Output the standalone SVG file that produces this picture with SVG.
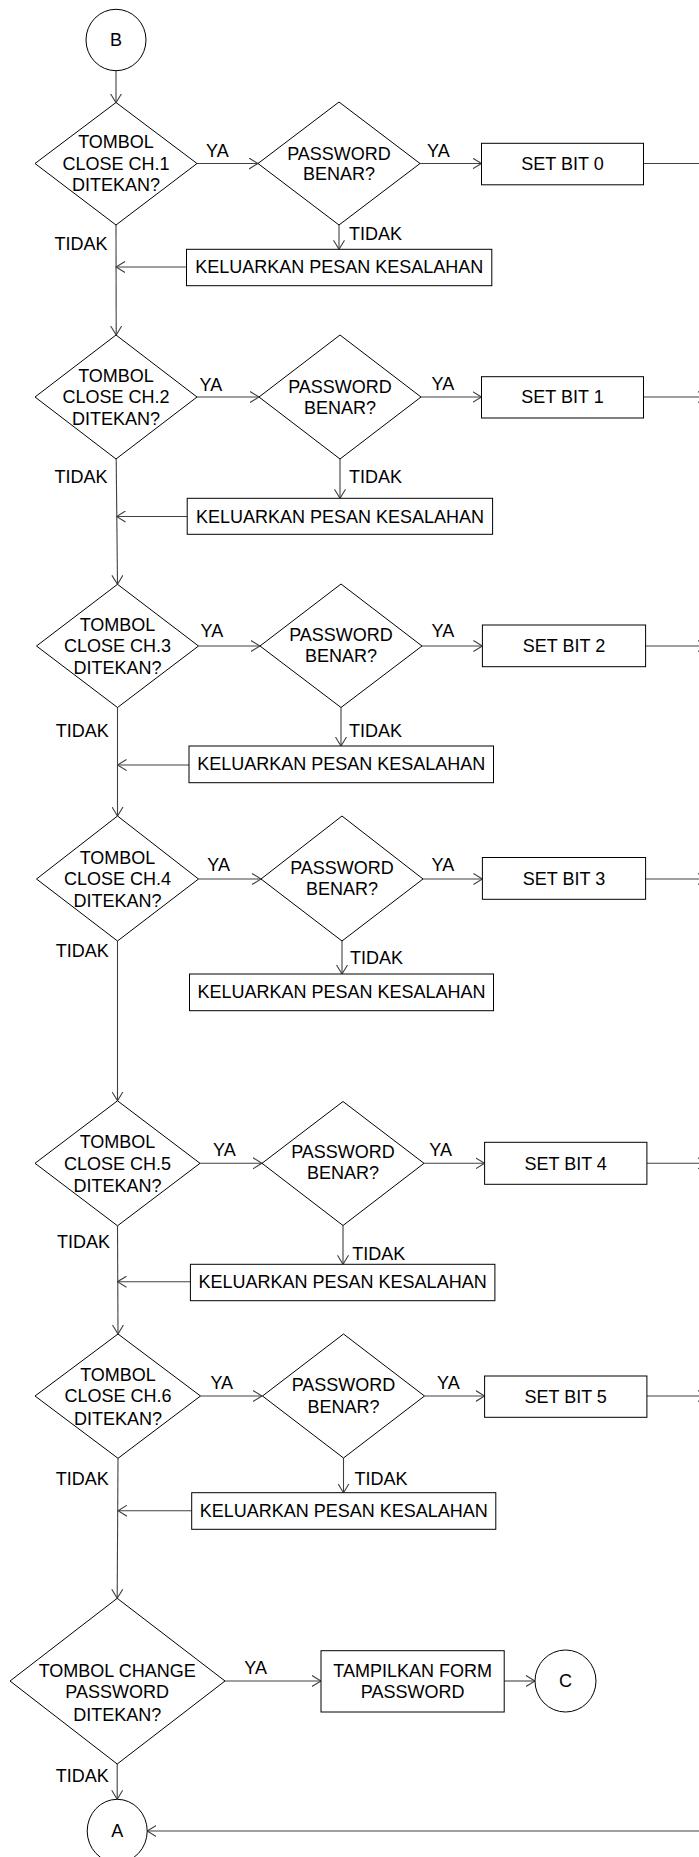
<svg xmlns="http://www.w3.org/2000/svg" width="699" height="1857" viewBox="0 0 699 1857">
<style>
.s{fill:#fff;stroke:#000;stroke-width:1}
.t{font-family:"Liberation Sans",Arial,sans-serif;font-size:18px;fill:#000}
.m{text-anchor:middle}
.c{fill:none;stroke:#404040;stroke-width:1.1}
.a{marker-end:url(#ah)}
</style>
<defs>
<marker id="ah" viewBox="0 0 10 12" refX="9" refY="6" markerWidth="10" markerHeight="12" markerUnits="userSpaceOnUse" orient="auto">
<path d="M0,0.5 L9,6 L0,11.5" fill="none" stroke="#404040" stroke-width="1.1"/>
</marker>
</defs>
<rect width="699" height="1857" fill="#fff"/>

<g id="connectors">
<line class="c a" x1="116" y1="70.7" x2="116" y2="102.7"/>
<line class="c a" x1="197" y1="163.5" x2="258" y2="163.5"/>
<line class="c a" x1="420" y1="163.5" x2="481.5" y2="163.5"/>
<line class="c" x1="643.5" y1="163.5" x2="699" y2="163.5"/>
<line class="c a" x1="339" y1="225" x2="339" y2="249.3"/>
<line class="c a" x1="186.5" y1="267" x2="116" y2="267"/>
<line class="c a" x1="116" y1="225" x2="116.2" y2="335"/>

<line class="c a" x1="197" y1="397" x2="259" y2="397"/>
<line class="c a" x1="421" y1="397" x2="481.5" y2="397"/>
<line class="c a" x1="643.5" y1="397" x2="707" y2="397"/>
<line class="c a" x1="340" y1="459" x2="340" y2="498.3"/>
<line class="c a" x1="187.2" y1="516.5" x2="116.5" y2="516.5"/>
<line class="c a" x1="116.2" y1="459" x2="117.5" y2="584.3"/>

<line class="c a" x1="198.5" y1="646" x2="260" y2="646"/>
<line class="c a" x1="422" y1="646" x2="482.4" y2="646"/>
<line class="c a" x1="645.5" y1="646" x2="707" y2="646"/>
<line class="c a" x1="341" y1="707.5" x2="341" y2="746"/>
<line class="c a" x1="189" y1="765" x2="117.5" y2="765"/>
<line class="c a" x1="117.5" y1="707.5" x2="117.5" y2="816"/>

<line class="c a" x1="198.5" y1="879" x2="261" y2="879"/>
<line class="c a" x1="423" y1="879" x2="482.4" y2="879"/>
<line class="c a" x1="645.5" y1="879" x2="707" y2="879"/>
<line class="c a" x1="342" y1="941" x2="342" y2="974"/>
<line class="c a" x1="117.5" y1="941" x2="117.5" y2="1100.8"/>

<line class="c a" x1="200" y1="1163.3" x2="262" y2="1163.3"/>
<line class="c a" x1="424" y1="1163.3" x2="484.6" y2="1163.3"/>
<line class="c a" x1="647" y1="1163.3" x2="707" y2="1163.3"/>
<line class="c a" x1="343" y1="1225.5" x2="343" y2="1264.3"/>
<line class="c a" x1="190.4" y1="1281.7" x2="117.5" y2="1281.7"/>
<line class="c a" x1="117.5" y1="1225.8" x2="118" y2="1334"/>

<line class="c a" x1="200.5" y1="1396" x2="262" y2="1396"/>
<line class="c a" x1="424.5" y1="1396" x2="484.6" y2="1396"/>
<line class="c a" x1="647" y1="1396" x2="707" y2="1396"/>
<line class="c a" x1="343.5" y1="1458" x2="343.5" y2="1492.7"/>
<line class="c a" x1="191.7" y1="1510.7" x2="118" y2="1510.7"/>
<line class="c a" x1="118" y1="1458.3" x2="117.2" y2="1598.3"/>

<line class="c a" x1="225" y1="1681" x2="321" y2="1681"/>
<line class="c a" x1="504.2" y1="1681" x2="535" y2="1681"/>
<line class="c a" x1="117.2" y1="1764" x2="117.2" y2="1799.3"/>
<line class="c a" x1="699" y1="1831" x2="147.2" y2="1831"/>
</g>

<g id="labels" class="t">
<text x="206" y="157">YA</text><text x="427" y="157">YA</text>
<text x="349" y="240">TIDAK</text><text x="54.5" y="250">TIDAK</text>
<text x="199.5" y="390.5">YA</text><text x="431.5" y="390">YA</text>
<text x="349" y="483.3">TIDAK</text><text x="54.5" y="483.3">TIDAK</text>
<text x="200.5" y="637">YA</text><text x="431.5" y="637">YA</text>
<text x="349" y="736.7">TIDAK</text><text x="55.7" y="736.7">TIDAK</text>
<text x="207.3" y="870.7">YA</text><text x="431.5" y="870.7">YA</text>
<text x="350" y="964">TIDAK</text><text x="55.7" y="956.7">TIDAK</text>
<text x="213" y="1156">YA</text><text x="429.3" y="1156">YA</text>
<text x="352.2" y="1260">TIDAK</text><text x="57" y="1248.3">TIDAK</text>
<text x="210.4" y="1389.3">YA</text><text x="437" y="1389.3">YA</text>
<text x="354.4" y="1485">TIDAK</text><text x="55.7" y="1485">TIDAK</text>
<text x="244.3" y="1674">YA</text>
<text x="55.7" y="1782.3">TIDAK</text>
</g>

<g id="start-B"><ellipse class="s" cx="116" cy="40" rx="30" ry="30.7"/><text class="t m" x="116" y="46">B</text></g>

<g id="dec-ch1"><polygon class="s" points="116,102.5 197,163.5 116,225 35,163.5"/>
<text class="t m" x="116" y="148.3">TOMBOL</text><text class="t m" x="116" y="169.8">CLOSE CH.1</text><text class="t m" x="116" y="190.5">DITEKAN?</text></g>
<g id="pw-1"><polygon class="s" points="339,102 420,163.5 339,225 258,163.5"/>
<text class="t m" x="339" y="160">PASSWORD</text><text class="t m" x="339" y="180">BENAR?</text></g>
<g id="set-0"><rect class="s" x="481.5" y="143.3" width="162" height="41.5"/><text class="t m" x="562.5" y="170.3">SET BIT 0</text></g>
<g id="err-1"><rect class="s" x="186.5" y="249.3" width="305.3" height="36.4"/><text class="t m" x="339.2" y="273.3">KELUARKAN PESAN KESALAHAN</text></g>

<g id="dec-ch2"><polygon class="s" points="116,335 197,397 116,459 35,397"/>
<text class="t m" x="116" y="381.6">TOMBOL</text><text class="t m" x="116" y="403.3">CLOSE CH.2</text><text class="t m" x="116" y="425">DITEKAN?</text></g>
<g id="pw-2"><polygon class="s" points="340,335 421,397 340,459 259,397"/>
<text class="t m" x="340" y="393">PASSWORD</text><text class="t m" x="340" y="414">BENAR?</text></g>
<g id="set-1"><rect class="s" x="481.5" y="376.7" width="162" height="41.3"/><text class="t m" x="562.5" y="403.3">SET BIT 1</text></g>
<g id="err-2"><rect class="s" x="187.2" y="498.3" width="305.4" height="36"/><text class="t m" x="340" y="522.7">KELUARKAN PESAN KESALAHAN</text></g>

<g id="dec-ch3"><polygon class="s" points="117.5,584.3 198.5,646 117.5,707.5 36.5,646"/>
<text class="t m" x="117.5" y="630.7">TOMBOL</text><text class="t m" x="117.5" y="652">CLOSE CH.3</text><text class="t m" x="117.5" y="674">DITEKAN?</text></g>
<g id="pw-3"><polygon class="s" points="341,584 422,646 341,707.5 260,646"/>
<text class="t m" x="341" y="640.5">PASSWORD</text><text class="t m" x="341" y="661.7">BENAR?</text></g>
<g id="set-2"><rect class="s" x="482.4" y="625" width="163.2" height="41.7"/><text class="t m" x="564" y="651.5">SET BIT 2</text></g>
<g id="err-3"><rect class="s" x="189" y="746" width="304.5" height="36.7"/><text class="t m" x="341.2" y="770">KELUARKAN PESAN KESALAHAN</text></g>

<g id="dec-ch4"><polygon class="s" points="117.5,816 198.5,879 117.5,941 36.5,879"/>
<text class="t m" x="117.5" y="863.5">TOMBOL</text><text class="t m" x="117.5" y="885">CLOSE CH.4</text><text class="t m" x="117.5" y="906.5">DITEKAN?</text></g>
<g id="pw-4"><polygon class="s" points="342,816 423,879 342,941 261,879"/>
<text class="t m" x="342" y="873.5">PASSWORD</text><text class="t m" x="342" y="894.5">BENAR?</text></g>
<g id="set-3"><rect class="s" x="482.4" y="857.5" width="163.2" height="41.8"/><text class="t m" x="564" y="884.5">SET BIT 3</text></g>
<g id="err-4"><rect class="s" x="189.5" y="974" width="304" height="36.7"/><text class="t m" x="341.5" y="998.3">KELUARKAN PESAN KESALAHAN</text></g>

<g id="dec-ch5"><polygon class="s" points="117.5,1100.8 200,1163.3 117.5,1225.8 35,1163.3"/>
<text class="t m" x="117.5" y="1148.3">TOMBOL</text><text class="t m" x="117.5" y="1170">CLOSE CH.5</text><text class="t m" x="117.5" y="1191.7">DITEKAN?</text></g>
<g id="pw-5"><polygon class="s" points="343,1101.5 424,1163.3 343,1225.5 262,1163.3"/>
<text class="t m" x="343" y="1157.5">PASSWORD</text><text class="t m" x="343" y="1179.3">BENAR?</text></g>
<g id="set-4"><rect class="s" x="484.6" y="1142.3" width="162.3" height="42"/><text class="t m" x="565.7" y="1169.5">SET BIT 4</text></g>
<g id="err-5"><rect class="s" x="190.4" y="1264.3" width="304.5" height="36.4"/><text class="t m" x="342.6" y="1288.3">KELUARKAN PESAN KESALAHAN</text></g>

<g id="dec-ch6"><polygon class="s" points="118,1334 200.5,1396 118,1458.3 35,1396"/>
<text class="t m" x="118" y="1380.5">TOMBOL</text><text class="t m" x="118" y="1402">CLOSE CH.6</text><text class="t m" x="118" y="1424.5">DITEKAN?</text></g>
<g id="pw-6"><polygon class="s" points="343.5,1334 424.5,1396 343.5,1458 262.5,1396"/>
<text class="t m" x="343.5" y="1391">PASSWORD</text><text class="t m" x="343.5" y="1412.7">BENAR?</text></g>
<g id="set-5"><rect class="s" x="484.6" y="1376" width="162.3" height="41.3"/><text class="t m" x="565.7" y="1402.7">SET BIT 5</text></g>
<g id="err-6"><rect class="s" x="191.7" y="1492.7" width="304.1" height="36.6"/><text class="t m" x="343.7" y="1516.7">KELUARKAN PESAN KESALAHAN</text></g>

<g id="dec-change"><polygon class="s" points="117.2,1598.3 225,1681 117.2,1764 10,1681"/>
<text class="t m" x="117.2" y="1676.7">TOMBOL CHANGE</text><text class="t m" x="117.2" y="1698.3">PASSWORD</text><text class="t m" x="117.2" y="1720.7">DITEKAN?</text></g>
<g id="show-form"><rect class="s" x="321" y="1650.7" width="183.2" height="61.3"/>
<text class="t m" x="412.6" y="1676.7">TAMPILKAN FORM</text><text class="t m" x="412.6" y="1698.3">PASSWORD</text></g>
<g id="conn-C"><ellipse class="s" cx="565.5" cy="1681" rx="30.5" ry="31"/><text class="t m" x="565.5" y="1687">C</text></g>
<g id="conn-A"><ellipse class="s" cx="117.2" cy="1831" rx="30" ry="31.7"/><text class="t m" x="117.2" y="1837">A</text></g>
</svg>
